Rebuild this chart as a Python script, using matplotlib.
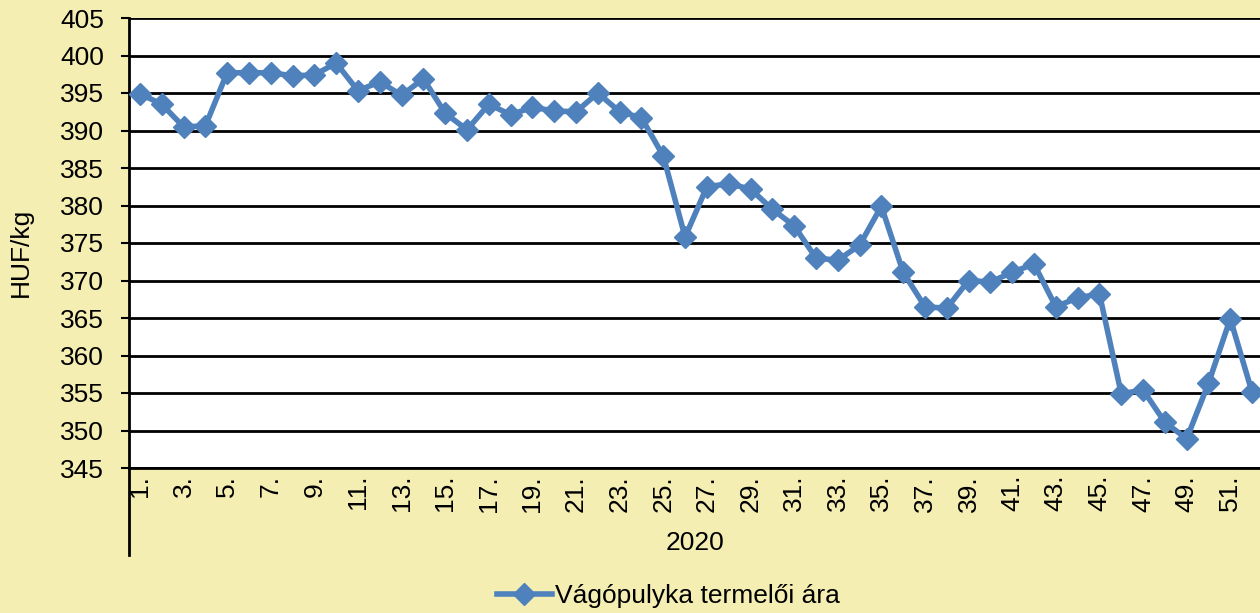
import numpy as np
import matplotlib.pyplot as plt
from matplotlib.lines import Line2D

plt.rcParams['font.family'] = ['Liberation Sans', 'DejaVu Sans']

# weekly producer price of slaughter turkey, 2020
weeks = list(range(1, 53))
prices = [394.9, 393.5, 390.5, 390.6, 397.7, 397.7, 397.7, 397.3, 397.4, 399.0,
          395.3, 396.5, 394.7, 396.9, 392.3, 390.1, 393.5, 392.1, 393.1, 392.6,
          392.5, 395.0, 392.5, 391.7, 386.6, 375.8, 382.5, 382.9, 382.2, 379.5,
          377.3, 373.0, 372.7, 374.7, 379.9, 371.1, 366.5, 366.3, 370.0, 369.8,
          371.1, 372.2, 366.5, 367.7, 368.2, 354.9, 355.4, 351.1, 348.9, 356.3,
          364.9, 355.1]
tick_labels = [f'{w}.' if w % 2 == 1 else '' for w in weeks]
year = '2020'
series_name = 'Vágópulyka termelői ára'

bg = '#F5EEB3'
blue = '#4F81BD'
fs = 19

fig = plt.figure(figsize=(12.6, 6.13), dpi=100, facecolor=bg)
ax = fig.add_axes([129 / 1260, 1 - 468 / 613, (1263 - 129) / 1260, 450 / 613])
ax.set_facecolor('white')

x = np.arange(len(weeks))
ax.plot(x, prices, color=blue, lw=4, marker='D', ms=11.5, mec=blue, mfc=blue,
        clip_on=False, zorder=3)

ax.set_xlim(-0.5, len(weeks) - 0.5)
ax.set_ylim(345, 405)
ax.set_yticks(np.arange(345, 406, 5))
ax.yaxis.grid(True, color='black', lw=2)
ax.set_axisbelow(True)
ax.tick_params(axis='y', labelsize=fs, length=6, width=1.5, pad=12)
ax.set_xticks(x)
ax.set_xticklabels(tick_labels, rotation=90, fontsize=fs, va='top')
ax.tick_params(axis='x', length=0, pad=5)

for s in ['top', 'right']:
    ax.spines[s].set_visible(False)
ax.spines['left'].set_linewidth(2)
ax.spines['bottom'].set_linewidth(2)

# category group divider below the axis
fig.add_artist(Line2D([129 / 1260, 129 / 1260], [1 - 468 / 613, 1 - 555 / 613],
                      color='black', lw=2))

ax.set_ylabel('HUF/kg', fontsize=fs)
ax.yaxis.set_label_coords(-96 / 1134, 0.48)

fig.text(695 / 1260, 1 - 543 / 613, year, ha='center', va='center', fontsize=fs)

handle = Line2D([], [], color=blue, lw=4, marker='D', ms=11.5)
fig.legend([handle], [series_name], loc='center', bbox_to_anchor=(668 / 1260, 1 - 596 / 613),
           frameon=False, fontsize=fs, handlelength=2.1, handletextpad=0.1)

fig.savefig('out.png', dpi=100, facecolor=bg)
